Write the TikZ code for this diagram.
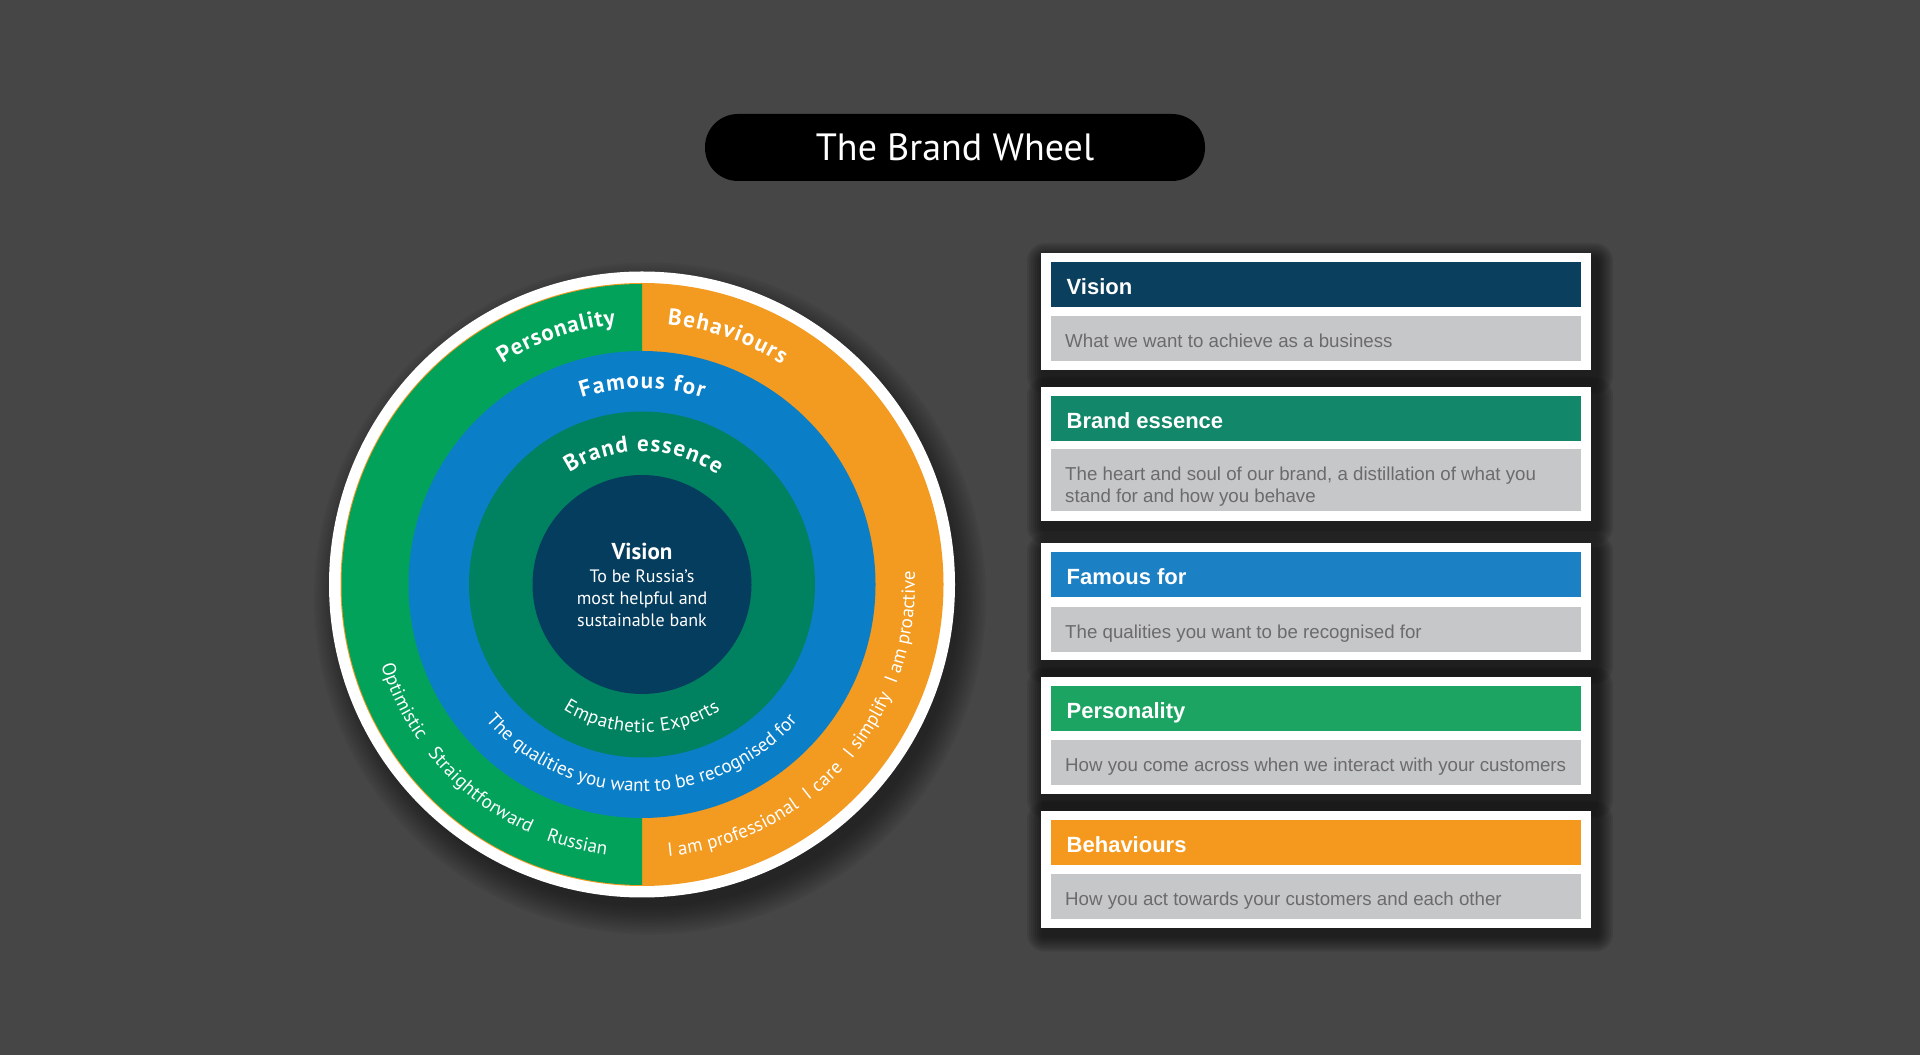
\documentclass[tikz,border=0pt]{standalone}
\usepackage{fontspec}
\setmainfont{Liberation Sans}
\newfontfamily\wheelfont{PT Sans}
\usetikzlibrary{decorations.text,calc}

\definecolor{bgc}{HTML}{464646}
\definecolor{persg}{HTML}{03A25B}
\definecolor{behvo}{HTML}{F39A20}
\definecolor{famb}{HTML}{0A7EC7}
\definecolor{essg}{HTML}{008260}
\definecolor{visn}{HTML}{053D5F}
\definecolor{pvision}{HTML}{0B3F5E}
\definecolor{pessence}{HTML}{13876A}
\definecolor{pfamous}{HTML}{1C80C5}
\definecolor{ppers}{HTML}{1BA462}
\definecolor{pbehav}{HTML}{F5991E}
\definecolor{pgray}{HTML}{C6C7C9}
\definecolor{ptext}{HTML}{6B6B6D}

\newcommand\wbold{\wheelfont\bfseries\fontsize{23}{27}\selectfont}
\newcommand\wreg{\wheelfont\fontsize{19}{23}\selectfont}
\newcommand\arctext[5]{%
  \path[decorate,decoration={text along path,text align={fit to path},text color=white,text={|#4|#5}}]
    ($(C)+(#1:#3)$) arc[start angle=#1,end angle=#2,radius=#3];}

\begin{document}
\begin{tikzpicture}[x=1pt,y=1pt,
  panel/.style={fill=white, anchor=north west, minimum width=550, inner sep=0, outer sep=0},
  hdrbox/.style={anchor=north west, minimum width=530, minimum height=45, inner sep=0, outer sep=0},
  graybox/.style={hdrbox, fill=pgray},
  hdrtext/.style={anchor=west, text=white, font=\bfseries\fontsize{22}{26}\selectfont, text height=15.8pt, text depth=0pt, inner sep=0},
  graytext/.style={anchor=west, text=ptext, font=\fontsize{18.7}{21.7}\selectfont, text height=13.4pt, text depth=0pt, inner sep=0},
  graybase/.style={anchor=base west, text=ptext, font=\fontsize{18.7}{21.7}\selectfont, inner sep=0},
  ctext/.style={anchor=base, text=white, font=\wheelfont\fontsize{18}{22}\selectfont, inner sep=0},
]
\useasboundingbox (0,0) rectangle (1920,1055);
\fill[bgc] (0,0) rectangle (1920,1055);

% ---------- title ----------
\node[fill=black, rounded corners=33, minimum width=500, minimum height=67, inner sep=0,
      text=white, font=\wheelfont\fontsize{38}{40}\selectfont] (title) at (955,907.5) {The Brand Wheel};

% ---------- wheel ----------
\coordinate (C) at (642,470.5);
\foreach \k in {0,...,11}
  \fill[black,opacity=0.045] ($(C)+(8,-14)$) circle[radius=336-\k*2.5];
\fill[white] (C) circle[radius=313];
\fill[behvo] (C) circle[radius=301.5];
\fill[persg] ($(C)+(90:300.5)$) arc[start angle=90,end angle=270,radius=300.5] -- cycle;
\fill[famb] (C) circle[radius=233.5];
\fill[essg] (C) circle[radius=173];
\fill[visn] (C) circle[radius=109.5];

% top labels (clockwise arcs)
\arctext{122.3}{95.8}{261}{\wbold}{Personality}
\arctext{84.4}{57.6}{261}{\wbold}{Behaviours}
\arctext{107.9}{71.9}{196}{\wbold}{Famous for}
\arctext{123}{55.5}{133}{\wbold}{Brand essence}

% bottom texts (counter-clockwise arcs)
\arctext{237.8}{302}{148}{\wreg}{Empathetic Experts}
\arctext{221}{318.4}{207}{\wreg}{The qualities you want to be recognised for}
\arctext{197.2}{215}{273}{\wreg}{Optimistic}
\arctext{218.3}{245.7}{273}{\wreg}{Straightforward}
\arctext{249.4}{262.4}{273}{\wreg}{Russian}
\arctext{275.5}{305.3}{273}{\wreg}{I am professional}
\arctext{307.6}{317.6}{273}{\wreg}{I care}
\arctext{320.2}{335.3}{273}{\wreg}{I simplify}
\arctext{338.6}{362.4}{273}{\wreg}{I am proactive}

% centre
\node[anchor=base, text=white, font=\wheelfont\bfseries\fontsize{23}{26}\selectfont, inner sep=0] (vtitle) at (642,495.7) {Vision};
\node[ctext] (v1) at (642,472) {To be Russia’s};
\node[ctext] (v2) at (642,450) {most helpful and};
\node[ctext] (v3) at (642,428) {sustainable bank};

% ---------- panels ----------
\foreach \y/\h in {802/117, 668/134, 511.5/117, 378/117, 244.3/117}{
  \foreach \k in {0,...,7}
    \fill[black,opacity=0.085,rounded corners=18-2*\k]
      (1041+2-16+2*\k, \y-6+16-2*\k) rectangle (1591+6+16-2*\k, \y-\h-8-16+2*\k);
}

\node[panel, minimum height=117] (p1) at (1041,802) {};
\node[hdrbox, fill=pvision] (h1) at (1051,793) {};
\node[hdrtext] (h1t) at (1066.5,768.5) {Vision};
\node[graybox] (g1) at (1051,739) {};
\node[graytext] (g1t) at (1065,714.5) {What we want to achieve as a business};

\node[panel, minimum height=134] (p2) at (1041,668) {};
\node[hdrbox, fill=pessence] (h2) at (1051,659) {};
\node[hdrtext] (h2t) at (1066.5,634.5) {Brand essence};
\node[graybox, minimum height=62] (g2) at (1051,606) {};
\node[graybase] (g2a) at (1065,574) {The heart and soul of our brand, a distillation of what you};
\node[graybase] (g2b) at (1065,552.3) {stand for and how you behave};

\node[panel, minimum height=117] (p3) at (1041,511.5) {};
\node[hdrbox, fill=pfamous] (h3) at (1051,503) {};
\node[hdrtext] (h3t) at (1066.5,478.5) {Famous for};
\node[graybox] (g3) at (1051,448) {};
\node[graytext] (g3t) at (1065,423.5) {The qualities you want to be recognised for};

\node[panel, minimum height=117] (p4) at (1041,378) {};
\node[hdrbox, fill=ppers] (h4) at (1051,369) {};
\node[hdrtext] (h4t) at (1066.5,344.5) {Personality};
\node[graybox] (g4) at (1051,314.5) {};
\node[graytext] (g4t) at (1065,290) {How you come across when we interact with your customers};

\node[panel, minimum height=117] (p5) at (1041,244.3) {};
\node[hdrbox, fill=pbehav] (h5) at (1051,235) {};
\node[hdrtext] (h5t) at (1066.5,210.5) {Behaviours};
\node[graybox] (g5) at (1051,181) {};
\node[graytext] (g5t) at (1065,156.5) {How you act towards your customers and each other};
\end{tikzpicture}
\end{document}
